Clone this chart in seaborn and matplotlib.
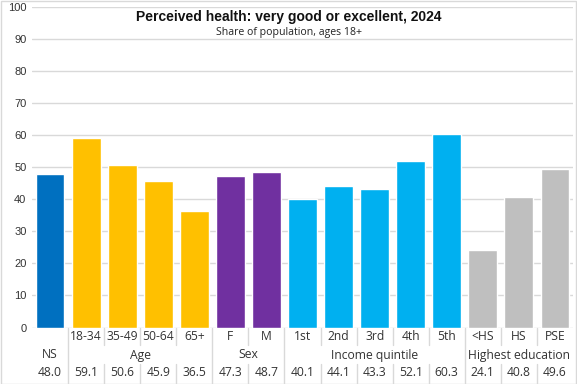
import matplotlib
matplotlib.use("Agg")
import matplotlib.pyplot as plt
import matplotlib.transforms as mtransforms
from matplotlib.patches import Rectangle
import seaborn as sns
import pandas as pd

# data
categories = ["NS", "18-34", "35-49", "50-64", "65+", "F", "M",
              "1st", "2nd", "3rd", "4th", "5th", "<HS", "HS", "PSE"]
values = [48.0, 59.1, 50.6, 45.9, 36.5, 47.3, 48.7,
          40.1, 44.1, 43.3, 52.1, 60.3, 24.1, 40.8, 49.6]
groups = ["", "Age", "Age", "Age", "Age", "Sex", "Sex",
          "Income quintile", "Income quintile", "Income quintile", "Income quintile", "Income quintile",
          "Highest education", "Highest education", "Highest education"]
group_colors = {"": "#0070C0", "Age": "#FFC000", "Sex": "#7030A0",
                "Income quintile": "#00B0F0", "Highest education": "#BFBFBF"}

df = pd.DataFrame({"category": categories, "value": values, "group": groups})

sns.set_style("white")
plt.rcParams["font.family"] = ["Liberation Sans", "DejaVu Sans"]
table_font = ["Open Sans", "DejaVu Sans"]

W, H = 577, 384
fig = plt.figure(figsize=(W / 100, H / 100), dpi=100)
ax = fig.add_axes([32 / W, (H - 327.5) / H, (573 - 32) / W, (327.5 - 7.3) / H])

palette = {c: group_colors[g] for c, g in zip(categories, groups)}
sns.barplot(data=df, x="category", y="value", hue="category", palette=palette,
            order=categories, width=0.8, saturation=1, legend=False, ax=ax, zorder=3)

ax.set_xlim(-0.5, len(categories) - 0.5)
ax.set_ylim(0, 100)
ax.set_yticks(range(0, 101, 10))
ax.yaxis.grid(True, color="#d9d9d9", linewidth=1, zorder=0)
ax.set_axisbelow(True)
for s in ax.spines.values():
    s.set_visible(False)
ax.tick_params(axis="y", length=0, labelsize=8, pad=4, colors="#333333")
ax.set_xticks([])
ax.set_xlabel("")
ax.set_ylabel("")

# title
fig.text(0.5, 1 - 17 / H, "Perceived health: very good or excellent, 2024",
         ha="center", va="center", fontsize=10, fontweight="bold", color="#111111")
fig.text(0.5, 1 - 32.5 / H, "Share of population, ages 18+",
         ha="center", va="center", fontsize=7.6, color="#222222", family=table_font)

# table under the axis
trans = mtransforms.blended_transform_factory(ax.transData, fig.transFigure)
def fy(px):
    return 1 - px / H

line_kw = dict(color="#d9d9d9", linewidth=1, transform=trans, clip_on=False)
txt_kw = dict(ha="center", va="center", fontsize=8.7, color="#333333",
              transform=trans, family=table_font)

# row 1: category labels (NS sits in the group row), row 3: values
for i, c in enumerate(categories):
    if groups[i] != "":
        ax.text(i, fy(337), c, **txt_kw)
    ax.text(i, fy(373), f"{values[i]:.1f}", **txt_kw)

# group labels and separators
start = 0
for i in range(1, len(categories) + 1):
    if i == len(categories) or groups[i] != groups[start]:
        label = groups[start] if groups[start] else categories[start]
        ax.text((start + i - 1) / 2, fy(355), label, **txt_kw)
        if i < len(categories):
            ax.plot([i - 0.5, i - 0.5], [fy(327.5), fy(384)], **line_kw)
        start = i
    elif i < len(categories):
        ax.plot([i - 0.5, i - 0.5], [fy(327.5), fy(345)], **line_kw)
        ax.plot([i - 0.5, i - 0.5], [fy(364), fy(384)], **line_kw)

# figure border
fig.patches.append(Rectangle((0.5 / W, 0.5 / H), 1 - 1.5 / W, 1 - 1.5 / H, transform=fig.transFigure,
                             fill=False, edgecolor="#d9d9d9", linewidth=1))

fig.savefig("out.png", dpi=100)
